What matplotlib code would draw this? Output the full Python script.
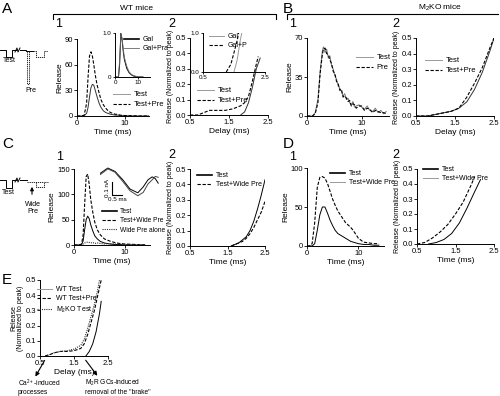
import matplotlib
matplotlib.use("Agg")
from matplotlib import pyplot as plt
from matplotlib.lines import Line2D

plt.rcParams['font.family'] = ['Liberation Sans', 'DejaVu Sans']
plt.rcParams['font.size'] = 5.5
plt.rcParams['mathtext.fontset'] = 'custom'
plt.rcParams['mathtext.rm'] = 'Liberation Sans'
plt.rcParams['mathtext.it'] = 'Liberation Sans'

# ---- data ----
# A1: WT release time course
a1_t = [0, 1, 1.5, 2, 2.3, 2.6, 2.9, 3.2, 3.5, 3.8, 4.2, 4.6, 5, 5.5, 6, 6.5, 7, 7.5, 8, 8.5, 9, 10, 11, 12, 13, 14, 15]
a1_test = [0, 0, 0.5, 3, 10, 22, 33, 37, 36, 30, 22, 15, 10, 6, 4, 3, 2, 1.5, 1, 1, 0.5, 0.3, 0.2, 0, 0, 0, 0]
a1_pre = [0, 0, 1, 15, 45, 70, 75, 70, 60, 48, 36, 27, 19, 13, 9, 6, 4, 3, 2, 2, 1, 0.5, 0.3, 0.2, 0, 0, 0]
a1i_t = [0, 1.5, 2, 2.5, 3, 3.5, 4, 5, 6, 7, 8, 10, 12]
a1i_gal = [0, 0, 0.3, 1.0, 0.85, 0.6, 0.4, 0.2, 0.1, 0.05, 0.02, 0, 0]
a1i_galpra = [0, 0, 0.4, 0.95, 0.9, 0.65, 0.45, 0.25, 0.12, 0.06, 0.03, 0, 0]

# A2: normalized release vs delay
a2_d_pre = [0.5, 0.7, 0.8, 1.0, 1.2, 1.4, 1.6, 1.8, 1.9, 2.0, 2.1, 2.2, 2.25]
a2_pre = [0, 0, 0.01, 0.03, 0.03, 0.03, 0.04, 0.06, 0.08, 0.12, 0.22, 0.33, 0.38]
a2_d_test = [1.8, 1.9, 2.0, 2.1, 2.2, 2.3]
a2_test = [0, 0.02, 0.08, 0.18, 0.3, 0.37]
a2i_d_gal = [1.5, 1.6, 1.7, 1.75]
a2i_gal = [0, 0.15, 0.4, 0.5]
a2i_d_galpra = [1.25, 1.4, 1.5, 1.6, 1.65]
a2i_galpra = [0, 0.1, 0.25, 0.4, 0.5]

# B1: M2KO time course
b1_t = [0, 1, 1.5, 2, 2.4, 2.8, 3.0, 3.3, 3.6, 3.9, 4.2, 4.5, 4.8, 5.1, 5.4, 5.7, 6.0, 6.3, 6.6, 6.9,
        7.2, 7.5, 7.8, 8.1, 8.4, 8.7, 9.0, 9.5, 10, 10.5, 11, 11.5, 12, 12.5, 13, 13.5, 14, 14.5]
b1_test = [0, 0, 3, 15, 40, 58, 62, 57, 60, 52, 54, 45, 42, 36, 33, 27, 25, 22, 18, 20,
           15, 16, 12, 10, 13, 8, 9, 10, 8, 6, 9, 5, 4, 7, 3, 5, 2, 4]
b1_pre = [0, 0, 2, 12, 38, 55, 60, 61, 56, 55, 50, 47, 40, 38, 31, 29, 23, 24, 17, 18,
          16, 13, 14, 9, 11, 10, 7, 9, 9, 5, 7, 6, 3, 5, 4, 3, 3, 2]

# B2
b2_d = [0.5, 0.8, 1.0, 1.2, 1.4, 1.6, 1.8, 2.0, 2.2, 2.4, 2.5]
b2_test = [0, 0, 0.01, 0.02, 0.03, 0.05, 0.09, 0.17, 0.28, 0.42, 0.5]
b2_pre = [0, 0, 0.01, 0.02, 0.03, 0.05, 0.12, 0.21, 0.31, 0.44, 0.5]

# C1: wide prepulse
c1_t = [0, 1, 1.5, 1.8, 2.1, 2.4, 2.7, 3.0, 3.3, 3.7, 4.1, 4.6, 5.2, 6, 7, 8, 9, 10, 12, 14]
c1_wide = [0, 0, 2, 20, 80, 135, 140, 120, 90, 65, 45, 30, 20, 12, 8, 5, 3, 2, 1, 0]
c1_test = [0, 0, 1, 8, 30, 50, 57, 52, 40, 28, 18, 12, 7, 4, 2, 1, 1, 0, 0, 0]
c1_alone = [0, 0, 0, 2, 4, 5, 6, 5, 4, 5, 3, 4, 3, 2, 3, 2, 2, 1, 1, 0]
c1i_x = [0, 1.3, 2.5, 3.8, 5.0, 6.3, 7.2, 8.0, 8.7, 9.2, 9.7]
c1i_a = [7.5, 8.8, 8.0, 6.0, 3.8, 2.9, 4.3, 6.0, 6.7, 6.3, 5.2]
c1i_b = [7.2, 8.6, 7.8, 5.6, 3.4, 2.2, 3.0, 5.0, 6.0, 6.8, 6.6]

# C2
c2_d = [1.6, 1.7, 1.8, 1.9, 2.0, 2.1, 2.2, 2.3, 2.4, 2.5]
c2_test = [0, 0.01, 0.02, 0.04, 0.06, 0.1, 0.16, 0.24, 0.33, 0.43]
c2_wide = [0, 0.01, 0.02, 0.03, 0.05, 0.08, 0.12, 0.17, 0.22, 0.29]

# D1
d1_t = [0, 0.5, 1, 1.5, 2, 2.5, 3, 3.5, 4, 4.5, 5, 5.5, 6, 6.5, 7, 7.5, 8, 8.5, 9, 9.5, 10, 11, 12, 13, 14]
d1_wide = [0, 0, 3, 30, 75, 88, 89, 87, 80, 70, 60, 52, 45, 40, 35, 30, 27, 24, 20, 15, 10, 5, 4, 3, 3]
d1_test = [0, 0, 0, 3, 20, 40, 50, 50, 42, 33, 26, 20, 16, 14, 12, 10, 8, 6, 5, 4, 3, 2, 2, 1, 1]

# D2
d2_d_wide = [0.5, 0.7, 0.9, 1.1, 1.3, 1.5, 1.7, 1.9, 2.0]
d2_wide = [0, 0.01, 0.04, 0.08, 0.13, 0.2, 0.28, 0.39, 0.45]
d2_d_test = [0.8, 1.0, 1.2, 1.4, 1.6, 1.8, 2.0, 2.15]
d2_test = [0, 0.01, 0.03, 0.07, 0.14, 0.24, 0.35, 0.43]

# E: summary
e_d_wt = [1.85, 1.95, 2.05, 2.15, 2.25, 2.3]
e_wt = [0, 0.03, 0.08, 0.16, 0.28, 0.36]
e_d_wtpre = [0.65, 0.8, 0.9, 1.1, 1.3, 1.5, 1.7, 1.8, 1.9, 2.0, 2.1, 2.2, 2.3]
e_wtpre = [0, 0.01, 0.02, 0.03, 0.03, 0.035, 0.05, 0.08, 0.14, 0.22, 0.3, 0.4, 0.5]
e_d_ko = [0.65, 0.8, 0.9, 1.1, 1.3, 1.5, 1.7, 1.8, 1.9, 2.0, 2.1, 2.2, 2.25]
e_ko = [0, 0.01, 0.02, 0.03, 0.035, 0.045, 0.07, 0.11, 0.18, 0.26, 0.34, 0.44, 0.5]

W, H = 500, 396
fig = plt.figure(figsize=(W / 100, H / 100), dpi=100)


def add_ax(l, t, r, b):
    ax = fig.add_axes([l / W, 1 - b / H, (r - l) / W, (b - t) / H])
    ax.spines['top'].set_visible(False)
    ax.spines['right'].set_visible(False)
    for s in ('left', 'bottom'):
        ax.spines[s].set_linewidth(0.7)
    ax.tick_params(length=2, width=0.6, pad=1, labelsize=5.5)
    ax.patch.set_visible(False)
    return ax


def legend(ax, x, y, handles, labels, fs=5.5):
    ax.legend(handles, labels, loc='upper left', bbox_to_anchor=(x / W, 1 - y / H),
              bbox_transform=fig.transFigure, frameon=False, fontsize=fs,
              handlelength=2.2, handletextpad=0.5, labelspacing=0.35,
              borderpad=0, borderaxespad=0)


NORM = "Release (Normalized to peak)"
solid = dict(color='#333333', lw=0.7)
dash = dict(color='black', lw=0.8, ls=(0, (3, 1.5)))
dot = dict(color='#333333', lw=0.8, ls=(0, (1, 1)))
h_solid = Line2D([], [], color='#999999', lw=0.7)
h_dash = Line2D([], [], **dash)
h_dot = Line2D([], [], **dot)
h_thick = Line2D([], [], color='black', lw=1.2)


def delay_axis(ax, xlabel):
    ax.set_xlim(0.5, 2.5)
    ax.set_ylim(0, 0.5)
    ax.set_xticks([0.5, 1.5, 2.5])
    ax.set_yticks([0, 0.1, 0.2, 0.3, 0.4, 0.5])
    ax.set_xlabel(xlabel, fontsize=6, labelpad=1)
    ax.set_ylabel(NORM, fontsize=5.0, labelpad=1)


# ---- A1 ----
ax = add_ax(77, 39, 149, 116)
ax.plot(a1_t, a1_test, **solid)
ax.plot(a1_t, a1_pre, **dash)
ax.set_xlim(0, 15)
ax.set_ylim(0, 90)
ax.set_xticks([0, 10])
ax.set_yticks([0, 30, 60, 90])
ax.set_xlabel("Time (ms)", fontsize=6, labelpad=1)
ax.set_ylabel("Release", fontsize=6, labelpad=1)
legend(ax, 113, 91, [h_solid, h_dash], ["Test", "Test+Pre"])

ax = add_ax(115, 33, 150, 77)
ax.plot(a1i_t, a1i_gal, color='black', lw=0.7)
ax.plot(a1i_t, a1i_galpra, color='#666666', lw=0.6)
ax.set_xlim(0, 15)
ax.set_ylim(0, 1)
ax.set_xticks([0, 10])
ax.set_yticks([0, 1])
ax.set_yticklabels(["0", "1.0"])
ax.tick_params(labelsize=4.5, length=1.5)
legend(ax, 124, 36, [h_thick, Line2D([], [], color='#666666', lw=0.6)], ["Gal", "Gal+Pra"], fs=5)

# ---- A2 ----
ax = add_ax(190, 38, 268, 115)
ax.plot(a2_d_test, a2_test, **solid)
ax.plot(a2_d_pre, a2_pre, **dash)
delay_axis(ax, "Delay (ms)")
legend(ax, 197, 87, [h_solid, h_dash], ["Test", "Test+Pre"])

ax = add_ax(203, 33, 265, 72)
ax.plot(a2i_d_gal, a2i_gal, color='#999999', lw=0.7)
ax.plot(a2i_d_galpra, a2i_galpra, **dash)
ax.set_xlim(0.5, 2.5)
ax.set_ylim(0, 0.5)
ax.set_xticks([0.5, 2.5])
ax.set_yticks([0, 0.5])
ax.set_yticklabels(["0.0", "1.0"])
ax.tick_params(labelsize=4.5, length=1.5)
legend(ax, 209, 33, [h_solid, h_dash], ["Gal", "Gal+P"], fs=5)

# ---- B1 ----
ax = add_ax(307, 38, 389, 116)
ax.plot(b1_t, b1_test, color='#777777', lw=0.7)
ax.plot(b1_t, b1_pre, **dash)
ax.set_xlim(0, 15)
ax.set_ylim(0, 70)
ax.set_xticks([0, 10])
ax.set_yticks([0, 35, 70])
ax.set_xlabel("Time (ms)", fontsize=6, labelpad=1)
ax.set_ylabel("Release", fontsize=6, labelpad=1)
legend(ax, 356, 54, [h_solid, h_dash], ["Test", "Pre"])

# ---- B2 ----
ax = add_ax(416, 38, 494, 116)
ax.plot(b2_d, b2_test, **solid)
ax.plot(b2_d, b2_pre, **dash)
delay_axis(ax, "Delay (ms)")
legend(ax, 425, 57, [h_solid, h_dash], ["Test", "Test+Pre"])

# ---- C1 ----
ax = add_ax(74, 169, 150, 245)
ax.plot(c1_t, c1_test, color='black', lw=0.7)
ax.plot(c1_t, c1_wide, **dash)
ax.plot(c1_t, c1_alone, **dot)
ax.set_xlim(0, 15)
ax.set_ylim(0, 150)
ax.set_xticks([0, 10])
ax.set_yticks([0, 50, 100, 150])
ax.set_xlabel("Time (ms)", fontsize=6, labelpad=1)
ax.set_ylabel("Release", fontsize=6, labelpad=1)
legend(ax, 102, 208, [h_thick, h_dash, h_dot], ["Test", "Test+Wide Pre", "Wide Pre alone"], fs=4.8)

ax = fig.add_axes([100 / W, 1 - 205 / H, 60 / W, 42 / H])
ax.axis('off')
ax.plot(c1i_x, c1i_a, color='black', lw=0.7)
ax.plot(c1i_x, c1i_b, color='#444444', lw=0.7)
ax.plot([2, 2, 3.7], [5.5, 2.4, 2.4], color='black', lw=0.8)
ax.text(1.2, 4.0, "0.1 nA", rotation=90, ha='center', va='center', fontsize=4.5)
ax.text(2.9, 1.3, "0.5 ms", ha='center', va='center', fontsize=4.5)
ax.set_xlim(0, 10)
ax.set_ylim(0, 10)

# ---- C2 ----
ax = add_ax(190, 169, 265, 246)
ax.plot(c2_d, c2_test, color='black', lw=0.7)
ax.plot(c2_d, c2_wide, **dash)
delay_axis(ax, "Time (ms)")
legend(ax, 197, 172, [h_thick, h_dash], ["Test", "Test+Wide Pre"], fs=5)

# ---- D1 ----
ax = add_ax(307, 168, 384, 246)
ax.plot(d1_t, d1_test, color='black', lw=0.7)
ax.plot(d1_t, d1_wide, **dash)
ax.set_xlim(0, 15)
ax.set_ylim(0, 100)
ax.set_xticks([0, 10])
ax.set_yticks([0, 50, 100])
ax.set_xlabel("Time (ms)", fontsize=6, labelpad=1)
ax.set_ylabel("Release", fontsize=6, labelpad=1)
legend(ax, 330, 170, [h_thick, h_solid], ["Test", "Test+Wide Pre"], fs=5)

# ---- D2 ----
ax = add_ax(417, 169, 494, 244)
ax.plot(d2_d_test, d2_test, color='black', lw=0.7)
ax.plot(d2_d_wide, d2_wide, **dash)
delay_axis(ax, "Time (ms)")
legend(ax, 423, 166, [h_thick, h_solid], ["Test", "Test+Wide Pre"], fs=5)

# ---- E ----
ax = add_ax(40, 280, 108, 356)
ax.plot(e_d_wt, e_wt, color='black', lw=0.7)
ax.plot(e_d_wtpre, e_wtpre, **dash)
ax.plot(e_d_ko, e_ko, **dot)
delay_axis(ax, "Delay (ms)")
ax.set_ylabel("Release\n(Normalized to peak)", fontsize=5.0, labelpad=1, linespacing=1.0)
legend(ax, 37, 286, [h_solid, h_dash, h_dot], ["WT Test", "WT Test+Pre", "M$_2$KO Test"], fs=5)

# ---- overlay: letters, brackets, protocols, arrows ----
ov = fig.add_axes([0, 0, 1, 1])
ov.set_xlim(0, W)
ov.set_ylim(H, 0)
ov.axis('off')
ov.patch.set_visible(False)

for x, y, s in [(2, 9, "A"), (283, 9, "B"), (2, 144, "C"), (283, 144, "D"), (2, 280, "E")]:
    ov.text(x, y, s, fontsize=11, va='center', ha='left')
for x, y, s in [(55, 24, "1"), (168, 24, "2"), (289, 24, "1"), (392, 24, "2"),
                (56, 157, "1"), (168, 155, "2"), (289, 157, "1"), (392, 155, "2")]:
    ov.text(x, y, s, fontsize=9, va='center', ha='left')

ov.plot([53, 53, 276, 276], [19, 14, 14, 19], color='black', lw=0.8)
ov.text(137, 8, "WT mice", fontsize=6, ha='center', va='center')
ov.plot([287, 287, 498], [19, 14, 14], color='black', lw=0.8)
ov.text(440, 8, "M$_2$KO mice", fontsize=6, ha='center', va='center')

# stimulation protocol sketches
k = dict(color='black', lw=0.7)
ov.plot([0, 6, 6, 12, 12, 16], [50, 50, 57, 57, 50, 50], **k)
ov.plot([15, 17, 18, 20], [52, 48, 52, 48], **k)
ov.plot([20, 26, 26, 33], [50, 50, 51, 51], **k)
ov.plot([27, 27, 29, 29], [51, 84, 84, 51], color='black', lw=0.6, ls=(0, (1.5, 1)))
ov.plot([33, 36, 36, 44, 44, 48], [51, 51, 57, 57, 51, 51], color='black', lw=0.6, ls=(0, (1.5, 1)))
ov.text(9, 61, "Test", fontsize=5, ha='center', va='center')
ov.text(31, 90, "Pre", fontsize=5, ha='center', va='center')

ov.plot([0, 6, 6, 12, 12, 16], [180, 180, 188, 188, 180, 180], **k)
ov.plot([15, 17, 18, 20], [182, 178, 182, 178], **k)
ov.plot([20, 27], [180, 180], **k)
ov.plot([27, 44], [182, 182], color='black', lw=0.6, ls=(0, (1.5, 1)))
ov.plot([36, 36, 44, 44, 48], [182, 187, 187, 182, 182], color='black', lw=0.6, ls=(0, (1.5, 1)))
ov.annotate("", xy=(32, 184), xytext=(32, 197),
            arrowprops=dict(arrowstyle='-|>', color='black', lw=0.8, mutation_scale=5))
ov.text(8, 193, "Test", fontsize=5, ha='center', va='center')
ov.text(33, 208, "Wide\nPre", fontsize=5, ha='center', va='center', linespacing=1.1)

# E arrows
ov.annotate("", xy=(34, 379), xytext=(46, 358),
            arrowprops=dict(arrowstyle='-|>', color='black', lw=0.8, mutation_scale=6))
ov.annotate("", xy=(99, 378), xytext=(84, 358),
            arrowprops=dict(arrowstyle='-|>', color='black', lw=0.8, mutation_scale=6))
ov.text(18, 387, "Ca$^{2+}$-induced\nprocesses", fontsize=4.8, ha='left', va='center', linespacing=1.05)
ov.text(85, 387, "M$_2$R GCs-induced\nremoval of the \"brake\"", fontsize=4.8, ha='left', va='center',
        linespacing=1.05)

fig.savefig("out.png", dpi=100)
